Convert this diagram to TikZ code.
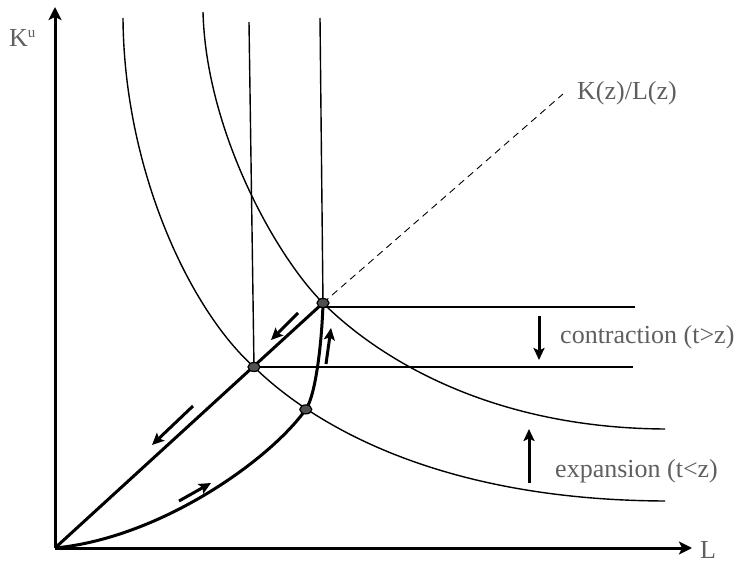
\documentclass[tikz,border=0pt]{standalone}
\usepackage{fontspec}
\setmainfont{Liberation Serif}
\usetikzlibrary{arrows.meta,shapes.geometric}
\definecolor{txt}{RGB}{95,95,95}
\definecolor{dotfill}{RGB}{80,80,80}
\begin{document}
\begin{tikzpicture}[x=1pt,y=-1pt,
  thinline/.style={line width=1.4pt},
  thickline/.style={line width=3pt},
  axisline/.style={line width=3pt,-{Stealth[length=13pt,width=13pt,inset=3pt]}},
  flow/.style={line width=3pt,-{Stealth[length=12pt,width=11pt,inset=2.5pt]}},
  dot/.style={ellipse,draw=black,line width=1.2pt,fill=dotfill,minimum width=12pt,minimum height=9pt,inner sep=0pt},
  lbl/.style={text=txt,font=\fontsize{26}{30}\selectfont,inner sep=0pt},
]
\useasboundingbox (0,0) rectangle (736,564);

% axes
\coordinate (O) at (55,548);
\coordinate (ytop) at (55,7);
\coordinate (xend) at (692,548);
\draw[axisline] (O) -- (ytop);
\draw[axisline] (O) -- (xend);

% key points
\coordinate (Pu) at (323,303);
\coordinate (Pl) at (254,367);
\coordinate (Pc) at (305.8,409.4);

% vertical lines
\coordinate (v1top) at (249,22);
\coordinate (v2top) at (320,18);
\draw[thinline] (v1top) -- (Pl);
\draw[thinline] (v2top) -- (Pu);

% horizontal lines
\coordinate (h1s) at (323,307);
\coordinate (h1e) at (635,307);
\coordinate (h2e) at (633,367);
\draw[thinline] (h1s) -- (h1e);
\draw[thinline] (Pl) -- (h2e);

% dashed ray
\coordinate (dend) at (563,94);
\draw[line width=0.9pt,dash pattern=on 7pt off 5pt] (Pu) -- (dend);

% hyperbolas
\coordinate (Atop) at (123,18);
\coordinate (Aend) at (665,501);
\coordinate (Btop) at (203,12);
\coordinate (Bend) at (665,429);
\draw[thinline] (Atop) .. controls (124,170) and (190,310) .. (Pl)
                       .. controls (300,412) and (420,500) .. (Aend);
\draw[thinline] (Btop) .. controls (206,130) and (275,255) .. (Pu)
                       .. controls (370,350) and (480,428) .. (Bend);

% thick paths
\draw[thickline] (O) -- (Pu);
\draw[thickline] (O) .. controls (160,538) and (270,460) .. (Pc)
                     .. controls (316,395) and (322,340) .. (Pu);

% dots
\node[dot] (du) at (Pu) {};
\node[dot] (dl) at (Pl) {};
\node[dot] (dc) at (Pc) {};

% flow arrows
\coordinate (a1t) at (298,313); \coordinate (a1h) at (271,340);
\coordinate (a2t) at (193,406); \coordinate (a2h) at (152,445);
\coordinate (a3t) at (179,501); \coordinate (a3h) at (211,483);
\coordinate (a4t) at (326,364); \coordinate (a4h) at (331,328);
\coordinate (a5t) at (539,316); \coordinate (a5h) at (539,360);
\coordinate (a6t) at (529,483); \coordinate (a6h) at (529,429);
\draw[flow] (a1t) -- (a1h);
\draw[flow] (a2t) -- (a2h);
\draw[flow] (a3t) -- (a3h);
\draw[flow] (a4t) -- (a4h);
\draw[flow] (a5t) -- (a5h);
\draw[flow] (a6t) -- (a6h);

% labels
\node[lbl,anchor=base west] (ku) at (9,47) {K\raisebox{9pt}{\fontsize{15}{15}\selectfont u}};
\node[lbl,anchor=base west] (ll) at (700,558) {L};
\node[lbl,anchor=base west] (kl) at (577,100) {K(z)/L(z)};
\node[lbl,anchor=base west] (con) at (560,343) {contraction (t>z)};
\node[lbl,anchor=base west] (exp) at (555,477) {expansion (t<z)};
\end{tikzpicture}
\end{document}
